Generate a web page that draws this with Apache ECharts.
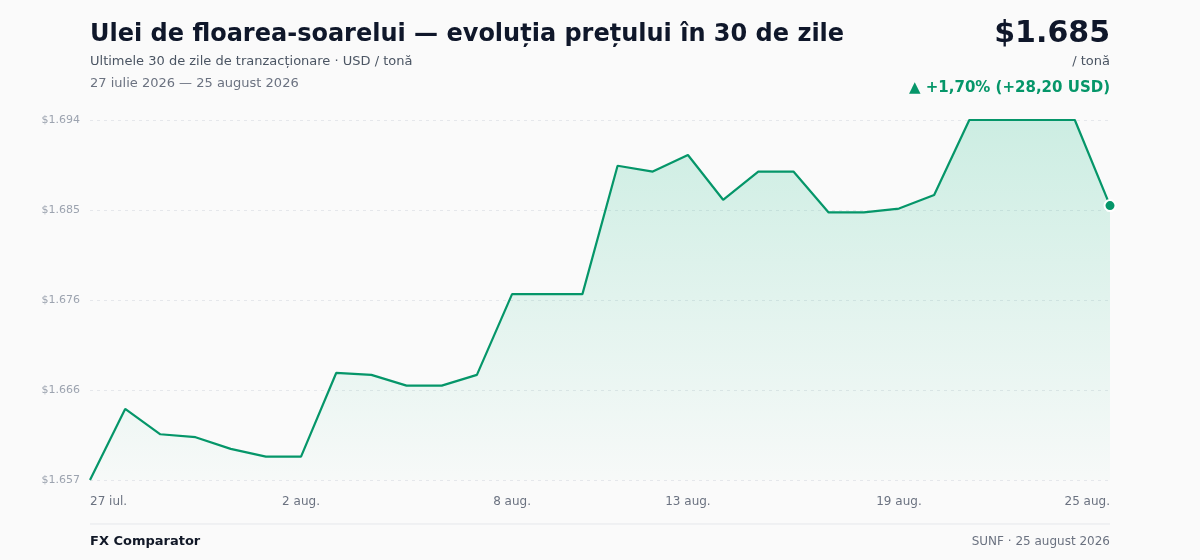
<!DOCTYPE html>
<html>
<head>
<meta charset="utf-8">
<title>Ulei de floarea-soarelui</title>
<script src="https://cdn.jsdelivr.net/npm/echarts@6/dist/echarts.min.js"></script>
<style>
  html, body { margin: 0; padding: 0; background: #fafafa; }
  #chart { width: 1200px; height: 560px; }
</style>
</head>
<body>
<div id="chart"></div>
<script>
// 30 zile de tranzactionare, 27 iul. - 25 aug. 2026
var dates = [
  '27 iul.', '28 iul.', '29 iul.', '30 iul.', '31 iul.',
  '1 aug.', '2 aug.', '3 aug.', '4 aug.', '5 aug.', '6 aug.', '7 aug.',
  '8 aug.', '9 aug.', '10 aug.', '11 aug.', '12 aug.', '13 aug.', '14 aug.',
  '15 aug.', '16 aug.', '17 aug.', '18 aug.', '19 aug.', '20 aug.', '21 aug.',
  '22 aug.', '23 aug.', '24 aug.', '25 aug.'
];
// USD / tona
var prices = [
  1657.0, 1664.3, 1661.7, 1661.4, 1660.2, 1659.4, 1659.4, 1668.0, 1667.8, 1666.7,
  1666.7, 1667.8, 1676.1, 1676.1, 1676.1, 1689.3, 1688.7, 1690.4, 1685.8, 1688.7,
  1688.7, 1684.5, 1684.5, 1684.9, 1686.3, 1694.0, 1694.0, 1694.0, 1694.0, 1685.2
];
// indici cu eticheta pe axa x
var labelIdx = [0, 6, 12, 17, 23, 29];

var GREEN = '#059669';
var FONT = 'DejaVu Sans';

var yMin = Math.min.apply(null, prices);
var yMax = Math.max.apply(null, prices);
var yStep = (yMax - yMin) / 4;

function fmtThousands(n) {
  return String(Math.round(n)).replace(/\B(?=(\d{3})+(?!\d))/g, '.');
}
function fmtComma(n, d) {
  return n.toFixed(d).replace('.', ',');
}

var last = prices[prices.length - 1];
var change = last - prices[0];
var pct = change / prices[0] * 100;

var chart = echarts.init(document.getElementById('chart'));

var option = {
  backgroundColor: '#fafafa',
  animation: false,
  textStyle: { fontFamily: FONT },
  grid: { left: 90, right: 90, top: 120, bottom: 80 },
  graphic: [
    { type: 'text', left: 90, top: 23,
      style: { text: 'Ulei de floarea-soarelui — evoluția prețului în 30 de zile',
        font: 'bold 24px "DejaVu Sans"', fill: '#0f172a' } },
    { type: 'text', left: 90, top: 55,
      style: { text: 'Ultimele 30 de zile de tranzacționare · USD / tonă',
        font: '13px "DejaVu Sans"', fill: '#4b5563' } },
    { type: 'text', left: 90, top: 77,
      style: { text: '27 iulie 2026 — 25 august 2026',
        font: '13px "DejaVu Sans"', fill: '#6b7280' } },
    { type: 'text', right: 90, top: 19,
      style: { text: '$' + fmtThousands(last),
        font: 'bold 30px "DejaVu Sans"', fill: '#0f172a', align: 'right' } },
    { type: 'text', right: 90, top: 55,
      style: { text: '/ tonă', font: '13px "DejaVu Sans"', fill: '#4b5563', align: 'right' } },
    { type: 'text', right: 90, top: 81,
      style: { text: '▲ +' + fmtComma(pct, 2) + '% (+' + fmtComma(change, 2) + ' USD)',
        font: 'bold 15px "DejaVu Sans"', fill: GREEN, align: 'right' } },
    { type: 'line', shape: { x1: 90, y1: 524, x2: 1110, y2: 524 },
      style: { stroke: '#e5e7eb', lineWidth: 1 } },
    { type: 'text', left: 90, top: 535,
      style: { text: 'FX Comparator', font: 'bold 13px "DejaVu Sans"', fill: '#111827' } },
    { type: 'text', right: 90, top: 536,
      style: { text: 'SUNF · 25 august 2026', font: '12px "DejaVu Sans"', fill: '#6b7280', align: 'right' } }
  ],
  xAxis: {
    type: 'category',
    data: dates,
    boundaryGap: false,
    axisLine: { show: false },
    axisTick: { show: false },
    axisLabel: {
      interval: function (i) { return labelIdx.indexOf(i) >= 0; },
      color: '#6b7280',
      fontSize: 12,
      margin: 16,
      alignMinLabel: 'left',
      alignMaxLabel: 'right'
    },
    splitLine: { show: false }
  },
  yAxis: {
    type: 'value',
    min: yMin,
    max: yMax,
    interval: yStep,
    axisLine: { show: false },
    axisTick: { show: false },
    axisLabel: {
      color: '#9ca3af',
      fontSize: 11,
      margin: 10,
      formatter: function (v) { return '$' + fmtThousands(v); }
    },
    splitLine: { lineStyle: { color: '#e5e7eb', type: [3, 4], width: 1 } }
  },
  series: [{
    type: 'line',
    data: prices.map(function (v, i) {
      if (i === prices.length - 1) {
        return { value: v, symbol: 'circle', symbolSize: 11,
          itemStyle: { color: GREEN, borderColor: '#ffffff', borderWidth: 2 } };
      }
      return v;
    }),
    symbol: 'none',
    showSymbol: true,
    lineStyle: { color: GREEN, width: 2.2 },
    itemStyle: { color: GREEN },
    areaStyle: {
      color: new echarts.graphic.LinearGradient(0, 0, 0, 1, [
        { offset: 0, color: 'rgba(16,185,129,0.28)' },
        { offset: 1, color: 'rgba(16,185,129,0.02)' }
      ])
    }
  }]
};

chart.setOption(option);
</script>
</body>
</html>
